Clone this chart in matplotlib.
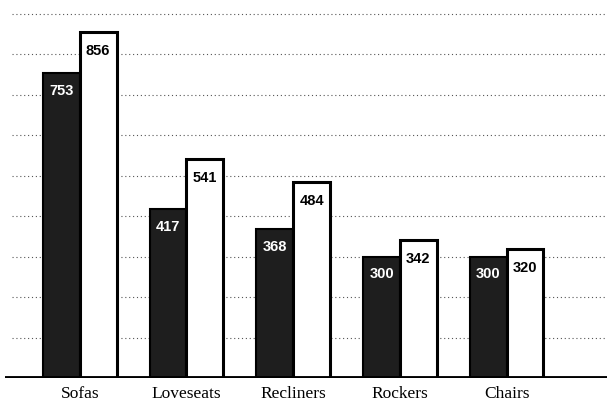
import numpy as np
import matplotlib
matplotlib.use("Agg")
import matplotlib.pyplot as plt

# data
categories = ["Sofas", "Loveseats", "Recliners", "Rockers", "Chairs"]
series_dark = [753, 417, 368, 300, 300]
series_white = [856, 541, 484, 342, 320]
grid_values = [100, 200, 300, 400, 500, 600, 700, 800, 900]

fig = plt.figure(figsize=(6.07, 4.06), dpi=100)
ax = fig.add_axes([5 / 607, 27 / 406, 602 / 607, 379 / 406])

x = np.arange(len(categories))
w = 0.345

# dotted gridlines behind the bars
for g in grid_values:
    ax.axhline(g, xmin=0.012, xmax=1.0, color="#555555", lw=0.8,
               ls=(0, (1, 2.5)), zorder=0)

dark = ax.bar(x - w / 2, series_dark, w, color="#1e1e1e", edgecolor="black",
              lw=1.5, zorder=2)
white = ax.bar(x + w / 2, series_white, w, color="white", edgecolor="black",
               lw=2.2, zorder=2)

# value labels inside the bar tops
for rect, v in zip(dark, series_dark):
    ax.annotate(str(v), (rect.get_x() + rect.get_width() / 2, v),
                xytext=(0, -7), textcoords="offset points", ha="center",
                va="top", color="white", fontsize=10.5, fontweight="bold",
                family="Liberation Sans", zorder=3)
for rect, v in zip(white, series_white):
    ax.annotate(str(v), (rect.get_x() + rect.get_width() / 2, v),
                xytext=(0, -8), textcoords="offset points", ha="center",
                va="top", color="black", fontsize=10.5, fontweight="bold",
                family="Liberation Sans", zorder=3)

ax.axhline(0, color="black", lw=3.5, zorder=4)

ax.set_xlim(-0.70, 4.94)
ax.set_ylim(0, 937)
ax.set_xticks(x)
ax.set_xticklabels(categories, family="Liberation Serif", fontsize=12.5)
ax.tick_params(axis="x", length=0, pad=5)
ax.set_yticks([])
for s in ax.spines.values():
    s.set_visible(False)

fig.savefig("out.png", dpi=100)
